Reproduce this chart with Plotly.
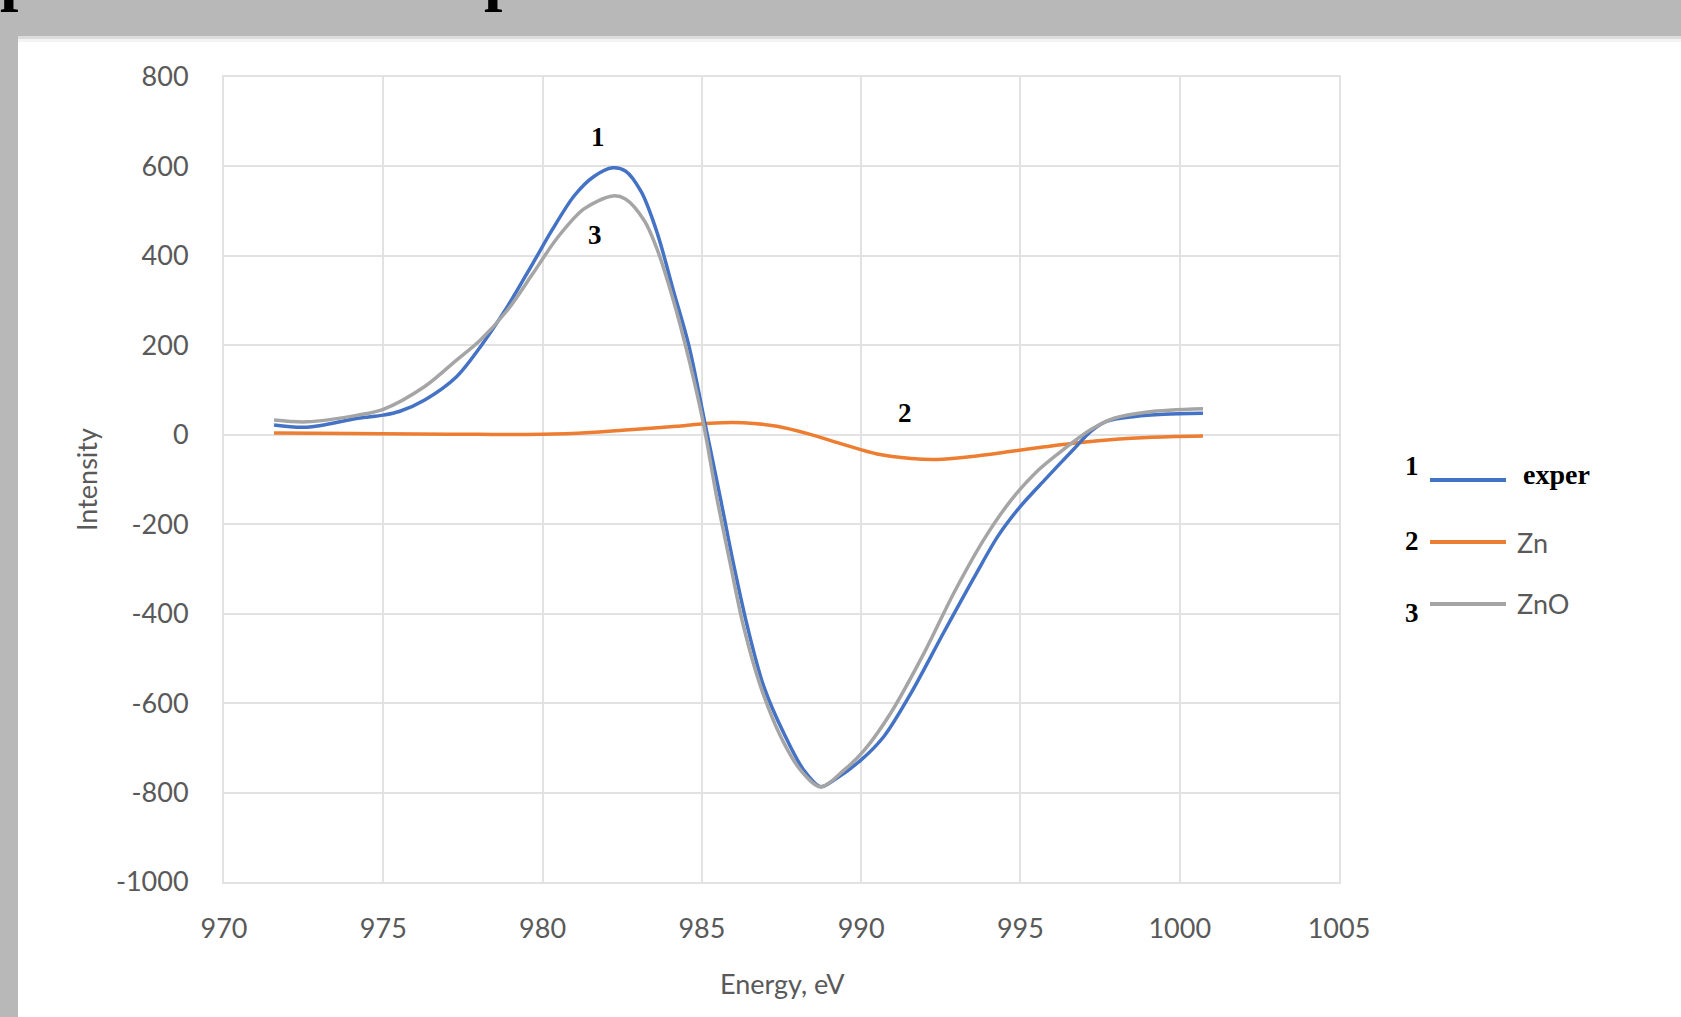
import plotly.graph_objects as go

# ---------------- data ----------------
energy_exper = [971.57, 972.6, 974.2, 975.0, 975.5, 976.3, 977.3, 978.05, 978.9, 979.7,
                980.3, 981.0, 981.6, 982.2, 982.6, 983.1, 983.6, 984.1, 984.6, 985.1,
                985.58, 986.0, 986.42, 986.94, 987.57, 988.2, 988.73, 989.15, 990.0, 990.72,
                991.57, 992.6, 993.6, 994.3, 995.0, 995.8, 996.7, 997.2, 997.7, 998.6,
                999.5, 1000.73]
intensity_exper = [22, 17, 37, 44, 52, 78, 130, 197, 287, 384,
                   458, 535, 577, 597, 590, 543, 451, 324, 197, 25,
                   -141, -291, -426, -562, -667, -750, -787, -772, -727, -674,
                   -577, -441, -312, -226, -160, -98, -30, 7, 30, 41,
                   46, 48]

energy_zn = [971.57, 974.0, 976.0, 978.0, 980.0, 981.5, 982.5, 983.5, 984.2, 985.26,
             986.3, 987.36, 988.4, 989.46, 990.5, 991.57, 992.4, 993.4, 994.72, 995.77,
             996.8, 998.0, 999.0, 1000.73]
intensity_zn = [4, 3, 2, 1, 1, 5, 10, 15, 19, 26,
                27, 19, 1, -22, -43, -53, -55, -49, -37, -27,
                -18, -10, -6, -3]

energy_zno = [971.57, 972.6, 974.2, 975.0, 976.3, 977.3, 978.05, 978.9, 979.7, 980.46,
              981.3, 982.2, 982.6, 983.2, 983.6, 984.1, 984.6, 985.05, 985.47, 985.9,
              986.3, 986.84, 987.47, 988.1, 988.73, 989.46, 990.1, 990.93, 991.99, 992.93,
              993.88, 994.72, 995.5, 996.35, 997.2, 997.94, 999.0, 1000.73]
intensity_zno = [33, 29, 44, 57, 108, 167, 212, 279, 361, 440,
                 505, 534, 527, 478, 414, 302, 167, 25, -141, -291,
                 -426, -562, -674, -750, -787, -750, -705, -622, -486, -351,
                 -231, -145, -83, -33, 11, 37, 51, 58]

series_names = ["exper", "Zn", "ZnO"]
series_numbers = ["1", "2", "3"]
series_colors = ["#4472C4", "#ED7D31", "#A5A5A5"]

x_tickvals = [970, 975, 980, 985, 990, 995, 1000, 1005]
x_ticktext = ["970", "975", "980", "985", "990", "995", "1000", "1005"]
y_tickvals = [-1000, -800, -600, -400, -200, 0, 200, 400, 600, 800]
y_ticktext = ["-1000", "-800", "-600", "-400", "-200", "0", "200", "400", "600", "800"]

# curve labels (data coordinates)
label_text = ["1", "2", "3"]
label_x = [981.73, 991.37, 981.63]
label_y = [666, 49, 447]

# ---------------- layout geometry ----------------
W, H = 1681, 1017
L, R, T, B = 224, 342, 77, 135
PW, PH = W - L - R, H - T - B


def px(x):
    return (x - L) / PW


def py(y):
    return (H - B - y) / PH


SANS = "Lato, 'Open Sans', sans-serif"
SERIF = "'Liberation Serif', 'DejaVu Serif', serif"
GRID = "#e2e2e2"
TXT = "#595959"

fig = go.Figure()
order = [1, 0, 2]
all_e = [energy_exper, energy_zn, energy_zno]
all_v = [intensity_exper, intensity_zn, intensity_zno]
for i in order:
    fig.add_trace(go.Scatter(x=all_e[i], y=all_v[i], mode="lines", name=series_names[i],
                             line=dict(color=series_colors[i], width=3.5, shape="spline",
                                       smoothing=0.9),
                             showlegend=False))

shapes = []
# white chart area over grey page background
shapes.append(dict(type="rect", xref="paper", yref="paper", layer="below",
                   x0=px(18), x1=px(W + 5), y0=py(H + 5), y1=py(36),
                   fillcolor="#ffffff", line=dict(width=0)))
shapes.append(dict(type="rect", xref="paper", yref="paper", layer="below",
                   x0=px(18), x1=px(W + 5), y0=py(39), y1=py(36),
                   fillcolor="#dcdcdc", line=dict(width=0)))
shapes.append(dict(type="rect", xref="paper", yref="paper", layer="below",
                   x0=px(18), x1=px(W + 5), y0=py(42), y1=py(39),
                   fillcolor="#f3f3f3", line=dict(width=0)))
# white label boxes hiding gridlines
shapes.append(dict(type="rect", xref="paper", yref="paper", layer="between",
                   x0=px(560), x1=px(712), y0=py(152), y1=py(84),
                   fillcolor="#ffffff", line=dict(width=0)))
shapes.append(dict(type="rect", xref="paper", yref="paper", layer="between",
                   x0=px(587), x1=px(623), y0=py(260), y1=py(214),
                   fillcolor="#ffffff", line=dict(width=0)))

annotations = []
# legend (manual, Excel-like with numbers)
leg_y = [480, 542, 604]
num_y = [466, 541, 613]
name_y = [474, 542, 603]
name_font = [dict(family=SERIF, size=28, color="#000000"),
             dict(family=SANS, size=27, color=TXT),
             dict(family=SANS, size=27, color=TXT)]
name_x = [1521, 1515, 1515]
for i in range(3):
    shapes.append(dict(type="line", xref="paper", yref="paper",
                       x0=px(1430), x1=px(1506), y0=py(leg_y[i]), y1=py(leg_y[i]),
                       line=dict(color=series_colors[i], width=4)))
    annotations.append(dict(xref="paper", yref="paper", x=px(1412), y=py(num_y[i]),
                            text="<b>%s</b>" % series_numbers[i], showarrow=False,
                            xanchor="center", yanchor="middle",
                            font=dict(family=SERIF, size=27, color="#000000")))
    txt = "<b>%s</b>" % series_names[i] if i == 0 else series_names[i]
    annotations.append(dict(xref="paper", yref="paper", x=px(name_x[i]), y=py(name_y[i]),
                            text=txt, showarrow=False, xanchor="left", yanchor="middle",
                            font=name_font[i]))

# curve number labels
for t, x, y in zip(label_text, label_x, label_y):
    annotations.append(dict(x=x, y=y, xref="x", yref="y", text="<b>%s</b>" % t,
                            showarrow=False, xanchor="center", yanchor="middle",
                            font=dict(family=SERIF, size=27, color="#000000")))

# axis titles
annotations.append(dict(xref="paper", yref="paper", x=px(782), y=py(983), text="Energy, eV",
                        showarrow=False, xanchor="center", yanchor="middle",
                        font=dict(family=SANS, size=27, color=TXT)))
annotations.append(dict(xref="paper", yref="paper", x=px(86), y=py(480), text="Intensity",
                        showarrow=False, xanchor="center", yanchor="middle", textangle=-90,
                        font=dict(family=SANS, size=27, color=TXT)))

# cut-off text fragments in the grey band at the top (only descenders visible)
for xx in [-2, 482]:
    annotations.append(dict(xref="paper", yref="paper", x=px(xx), y=py(14), text="<b>p</b>",
                            showarrow=False, xanchor="left", yanchor="bottom",
                            font=dict(family=SERIF, size=66, color="#000000")))

fig.update_layout(
    width=W, height=H,
    margin=dict(l=L, r=R, t=T, b=B, autoexpand=False),
    paper_bgcolor="#b8b8b8",
    plot_bgcolor="rgba(0,0,0,0)",
    shapes=shapes,
    annotations=annotations,
    xaxis=dict(range=[970, 1005], tickvals=x_tickvals, ticktext=x_ticktext,
               showgrid=True, gridcolor=GRID, gridwidth=2, zeroline=False,
               showline=True, linecolor=GRID, linewidth=2, mirror=True,
               ticks="", ticklabelstandoff=22,
               tickfont=dict(family=SANS, size=27, color=TXT)),
    yaxis=dict(range=[-1000, 800], tickvals=y_tickvals, ticktext=y_ticktext,
               showgrid=True, gridcolor=GRID, gridwidth=2, zeroline=False,
               showline=True, linecolor=GRID, linewidth=2, mirror=True,
               ticks="", ticklabelstandoff=28,
               tickfont=dict(family=SANS, size=27, color=TXT)),
)

fig.write_html("out.html")
